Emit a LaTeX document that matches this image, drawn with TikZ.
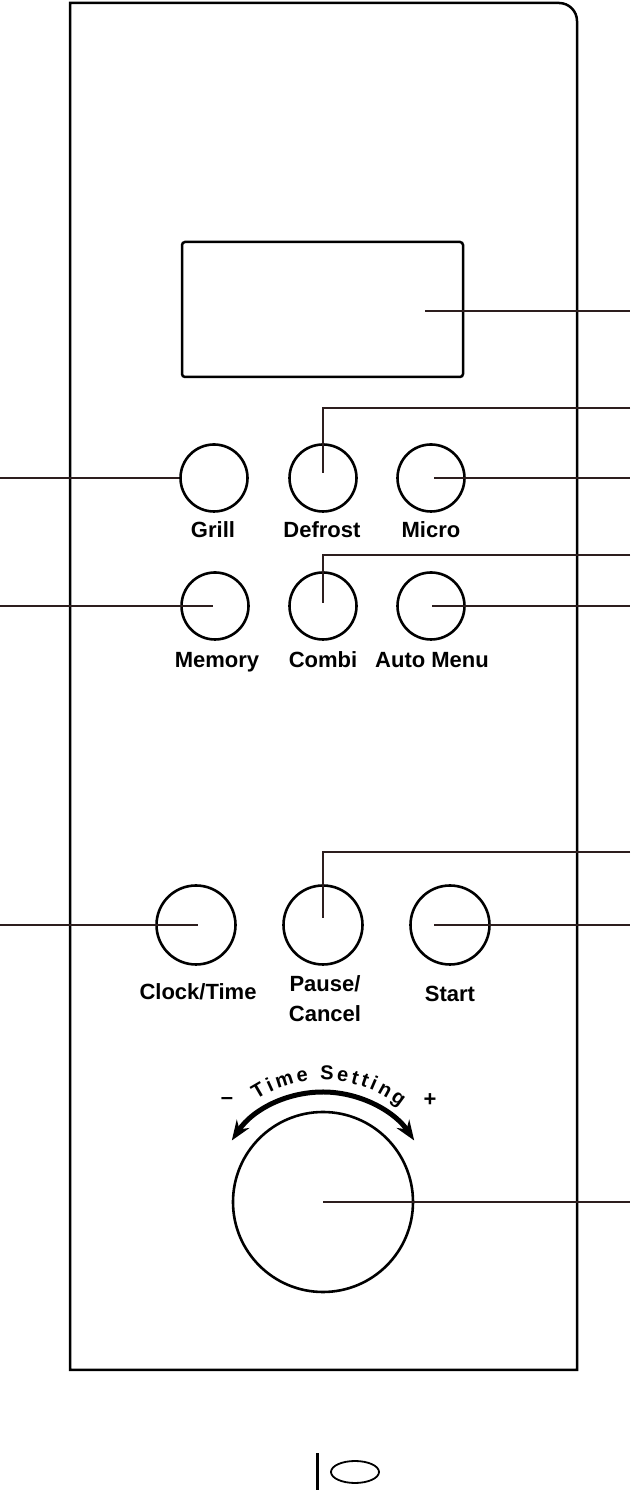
\documentclass[tikz,border=0pt]{standalone}
\usepackage{fontspec}
\setmainfont{Liberation Sans}
\usetikzlibrary{arrows.meta,decorations.text}
\definecolor{lead}{RGB}{45,30,30}
\tikzset{
  panel/.style={line width=2.5pt, draw=black},
  btn/.style={circle, draw=black, line width=2.6pt, minimum size=67pt, inner sep=0pt},
  bigbtn/.style={btn, minimum size=79pt},
  lbl/.style={font=\bfseries\fontsize{22}{22}\selectfont, inner sep=0pt, anchor=base},
  leader/.style={draw=lead, line width=1.8pt},
  sign/.style={font=\bfseries\fontsize{22}{22}\selectfont, inner sep=0pt},
}
\begin{document}
\begin{tikzpicture}[x=1pt,y=1pt]
\useasboundingbox (0,0) rectangle (630,1491);
% panel
\draw[panel] (70,121) -- (70,1488) -- (559,1488) arc[start angle=90,end angle=0,radius=18] -- (577,121) -- cycle;
% display
\node[draw, line width=2.5pt, minimum width=281pt, minimum height=135pt, inner sep=0pt, rounded corners=3pt] (display) at (322.5,1181.5) {};
\coordinate (dispP) at (425,1180);
\coordinate (dispR) at (630,1180);
\draw[leader] (dispP) -- (dispR);
% row 1
\node[btn] (grill) at (214,1013) {};
\node[btn] (defrost) at (323,1013) {};
\node[btn] (micro) at (431,1013) {};
\node[lbl] (grillT) at (213,953) {Grill};
\node[lbl] (defrostT) at (322,953) {Defrost};
\node[lbl] (microT) at (431,953) {Micro};
\coordinate (grillL) at (0,1013);
\draw[leader] (grillL) -- (grill.west);
\coordinate (defR) at (630,1083);
\draw[leader] (defR) -- (defrost.center |- defR) -- ([yshift=5pt]defrost.center);
\coordinate (microR) at (630,1013);
\draw[leader] ([xshift=3pt]micro.center) -- (microR);
% row 2
\node[btn] (memory) at (215,885) {};
\node[btn] (combi) at (323,885) {};
\node[btn] (auto) at (431,885) {};
\node[lbl] (memoryT) at (217,823) {Memory};
\node[lbl] (combiT) at (323,823) {Combi};
\node[lbl] (autoT) at (432,823) {Auto Menu};
\coordinate (memL) at (0,885);
\draw[leader] (memL) -- ([xshift=-2pt]memory.center);
\coordinate (combiR) at (630,936);
\draw[leader] (combiR) -- (combi.center |- combiR) -- ([yshift=3pt]combi.center);
\coordinate (autoR) at (630,885);
\draw[leader] ([xshift=1pt]auto.center) -- (autoR);
% row 3
\node[bigbtn] (clock) at (196,566) {};
\node[bigbtn] (pause) at (323,566) {};
\node[bigbtn] (start) at (450,566) {};
\node[lbl] (clockT) at (198,491) {Clock/Time};
\node[lbl] (pauseT) at (325,499) {Pause/};
\node[lbl] (cancelT) at (325,469) {Cancel};
\node[lbl] (startT) at (450,489) {Start};
\coordinate (clockL) at (0,566);
\draw[leader] (clockL) -- ([xshift=2pt]clock.center);
\coordinate (pauseR) at (630,639);
\draw[leader] (pauseR) -- (pause.center |- pauseR) -- ([yshift=7pt]pause.center);
\coordinate (startR) at (630,566);
\draw[leader] ([xshift=-16pt]start.center) -- (startR);
% knob
\node[circle, draw=black, line width=2.6pt, minimum size=180pt, inner sep=0pt] (knob) at (323,289) {};
\coordinate (knobR) at (630,289);
\draw[leader] (knob.center) -- (knobR);
\draw[line width=5pt, {Stealth[length=20pt,width=15pt]}-{Stealth[length=20pt,width=15pt]}]
  ([shift={(146:110)}]knob.center) arc[start angle=146, end angle=34, radius=110];
\path[decorate, decoration={text along path,
   text={|\bfseries\fontsize{20}{20}\selectfont|Time Setting}, text align={fit to path}}]
  ([shift={(123:122)}]knob.center) arc[start angle=123, end angle=51, radius=122];
\node[sign] (minus) at (227,390) {–};
\node[sign] (plus) at (430,391) {+};
% bottom symbol
\coordinate (barB) at (317,1);
\coordinate (barT) at (317,38);
\draw[line width=3pt] (barB) -- (barT);
\draw[line width=1.8pt] (355,19) ellipse[x radius=24, y radius=11];
\end{tikzpicture}
\end{document}
